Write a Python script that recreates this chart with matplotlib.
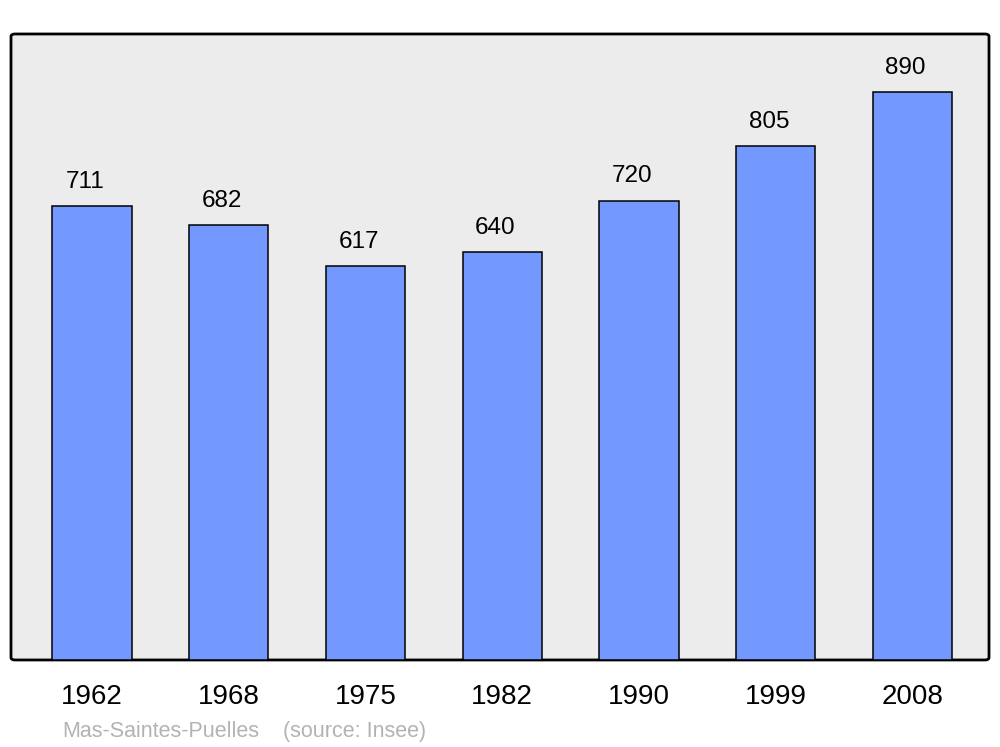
import matplotlib.pyplot as plt
from matplotlib.patches import FancyBboxPatch

# Population data
years = ["1962", "1968", "1975", "1982", "1990", "1999", "2008"]
population = [711, 682, 617, 640, 720, 805, 890]

plt.rcParams['font.family'] = ['Liberation Sans', 'DejaVu Sans']

fig = plt.figure(figsize=(10, 7.47), dpi=100)
ax = fig.add_axes([0.011, 0.1165, 0.978, 0.838])
ax.patch.set_visible(False)

# Rounded frame with grey background
frame = FancyBboxPatch((0, 0), 1, 1, boxstyle="round,pad=0,rounding_size=0.004",
                       transform=ax.transAxes, facecolor="#ececec",
                       edgecolor="black", linewidth=2, zorder=0, clip_on=False)
ax.add_patch(frame)

x = list(range(len(years)))
ax.bar(x, population, width=0.58, color="#7399ff", edgecolor="black",
       linewidth=1.1, zorder=2)

# labels sit a bit left of the bar centre in the original
for xi, v in zip(x, population):
    ax.annotate(str(v), (xi, v), xytext=(-5, 13), textcoords="offset points",
                ha="center", va="baseline", fontsize=17.5)

ax.set_xlim(-0.593, 6.56)
ax.set_ylim(0, 981)
ax.set_xticks(x)
ax.set_xticklabels(years, fontsize=20)
ax.tick_params(axis="x", length=0, pad=17.5)
ax.set_yticks([])
for s in ax.spines.values():
    s.set_visible(False)

fig.text(0.062, 0.0134, "Mas-Saintes-Puelles", fontsize=15.5, color="#b3b3b3",
         va="baseline")
fig.text(0.283, 0.0134, "(source: Insee)", fontsize=15.5, color="#b3b3b3",
         va="baseline")

fig.savefig("out.png", dpi=100)
